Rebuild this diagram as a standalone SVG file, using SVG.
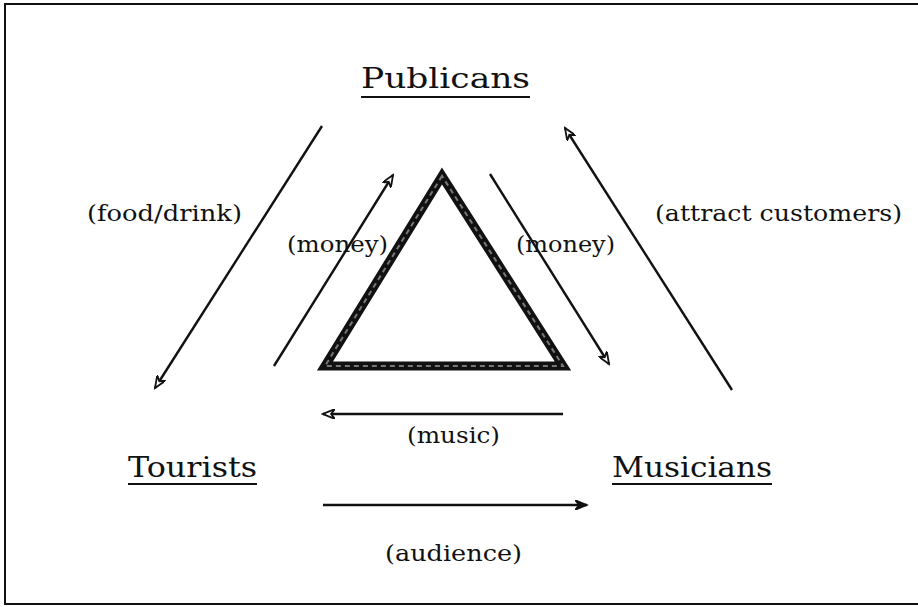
<svg xmlns="http://www.w3.org/2000/svg" width="918" height="607" viewBox="0 0 918 607">
<style>
.main{font-family:"DejaVu Serif","Liberation Serif",serif;font-size:28px;fill:#111}
.lbl{font-family:"DejaVu Serif","Liberation Serif",serif;font-size:22px;fill:#111}
.ul{stroke:#111;stroke-width:2}
.arr{stroke:#111;stroke-width:2.4;fill:none}
</style>
<defs>
<marker id="open" markerWidth="14" markerHeight="10" refX="12" refY="5" orient="auto" markerUnits="userSpaceOnUse">
<path d="M0,0 L12,5 L0,10 L4,5 Z" fill="#fff" stroke="#111" stroke-width="1.8" stroke-linejoin="miter"/>
</marker>
<marker id="solid" markerWidth="14" markerHeight="10" refX="12" refY="5" orient="auto" markerUnits="userSpaceOnUse">
<path d="M0,0 L12,5 L0,10 L4,5 Z" fill="#111" stroke="#111" stroke-width="1.5"/>
</marker>
</defs>
<rect width="918" height="607" fill="#fff"/>
<path d="M918,4 H5 V604 H918" fill="none" stroke="#111" stroke-width="2"/>
<g id="triangle">
<polygon points="442,176 325,366 563,366" fill="none" stroke="#111" stroke-width="9" stroke-linejoin="miter" stroke-miterlimit="10"/>
<polygon points="442,176 325,366 563,366" fill="none" stroke="#777" stroke-width="2" stroke-dasharray="5 4" stroke-linejoin="miter" stroke-miterlimit="10"/>
</g>
<g id="publicans">
<text class="main" x="361" y="88" textLength="169" lengthAdjust="spacingAndGlyphs">Publicans</text>
<line class="ul" x1="361" y1="97" x2="530" y2="97"/>
</g>
<g id="tourists">
<text class="main" x="128" y="477" textLength="129" lengthAdjust="spacingAndGlyphs">Tourists</text>
<line class="ul" x1="128" y1="484" x2="257" y2="484"/>
</g>
<g id="musicians">
<text class="main" x="612" y="477" textLength="160" lengthAdjust="spacingAndGlyphs">Musicians</text>
<line class="ul" x1="612" y1="484" x2="772" y2="484"/>
</g>
<g id="connectors">
<line class="arr" x1="322" y1="126" x2="155" y2="388" marker-end="url(#open)"/>
<line class="arr" x1="274" y1="366" x2="393" y2="175" marker-end="url(#open)"/>
<line class="arr" x1="490" y1="174" x2="609" y2="364" marker-end="url(#open)"/>
<line class="arr" x1="732" y1="390" x2="565" y2="128" marker-end="url(#open)"/>
<line class="arr" x1="563" y1="414" x2="323" y2="414" marker-end="url(#open)"/>
<line class="arr" x1="323" y1="505" x2="587" y2="505" stroke-width="2.8" marker-end="url(#solid)"/>
</g>
<g id="labels">
<text class="lbl" x="87" y="221" textLength="155" lengthAdjust="spacingAndGlyphs">(food/drink)</text>
<text class="lbl" x="287" y="252" textLength="101" lengthAdjust="spacingAndGlyphs">(money)</text>
<text class="lbl" x="516" y="252" textLength="99" lengthAdjust="spacingAndGlyphs">(money)</text>
<text class="lbl" x="655" y="221" textLength="247" lengthAdjust="spacingAndGlyphs">(attract customers)</text>
<text class="lbl" x="407" y="443" textLength="93" lengthAdjust="spacingAndGlyphs">(music)</text>
<text class="lbl" x="385" y="561" textLength="137" lengthAdjust="spacingAndGlyphs">(audience)</text>
</g>
</svg>
